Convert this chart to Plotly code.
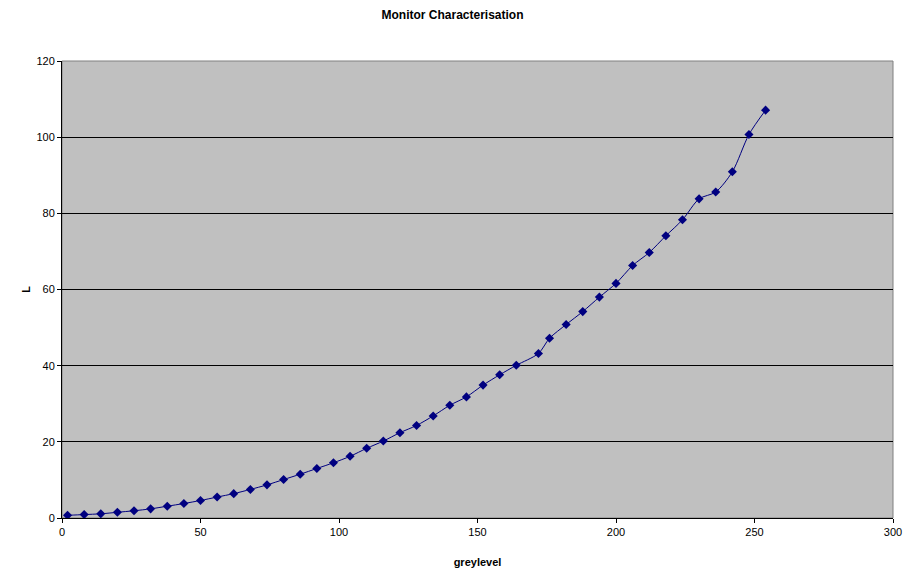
import plotly.graph_objects as go

greylevel = [2, 8, 14, 20, 26, 32, 38, 44, 50, 56, 62, 68, 74, 80, 86, 92, 98, 104,
             110, 116, 122, 128, 134, 140, 146, 152, 158, 164, 172, 176, 182, 188,
             194, 200, 206, 212, 218, 224, 230, 236, 242, 248, 254]
L_values = [0.7, 0.9, 1.1, 1.5, 1.9, 2.4, 3.1, 3.8, 4.6, 5.5, 6.4, 7.5, 8.7, 10.1,
            11.5, 13.0, 14.5, 16.2, 18.3, 20.2, 22.4, 24.3, 26.8, 29.6, 31.8, 34.9,
            37.6, 40.1, 43.2, 47.2, 50.8, 54.2, 58.0, 61.6, 66.3, 69.7, 74.1, 78.3,
            83.8, 85.6, 90.9, 100.7, 107.1]

x_ticks = [0, 50, 100, 150, 200, 250, 300]
y_ticks = [0, 20, 40, 60, 80, 100, 120]

FONT = "Liberation Sans, Arial, sans-serif"

fig = go.Figure()
fig.add_trace(go.Scatter(
    x=greylevel, y=L_values, mode="lines+markers",
    line=dict(color="#000080", width=1, shape="spline", smoothing=0.8),
    marker=dict(symbol="diamond", size=7, color="#000080"),
    showlegend=False,
))

fig.add_shape(type="rect", xref="x domain", yref="y domain", x0=0, x1=1, y0=0, y1=1,
              line=dict(color="#808080", width=1), layer="below")

fig.update_layout(
    width=905, height=572,
    margin=dict(l=62, r=12, t=61, b=54),
    paper_bgcolor="white", plot_bgcolor="#C0C0C0",
    font=dict(family=FONT, size=11, color="black"),
    title=dict(text="<b>Monitor Characterisation</b>", x=0.5, xanchor="center",
               y=1 - 15 / 572, yanchor="middle", font=dict(size=12, family=FONT)),
    xaxis=dict(range=[0, 300], tickvals=x_ticks, showgrid=False, zeroline=False,
               showline=True, linecolor="black", linewidth=1, automargin=False,
               ticks="outside", ticklen=4, tickcolor="black",
               title=dict(text="<b>greylevel</b>", font=dict(size=11), standoff=21)),
    yaxis=dict(range=[0, 120], tickvals=y_ticks, showgrid=True, gridcolor="black",
               gridwidth=1, zeroline=False, showline=True, linecolor="black",
               linewidth=1, ticks="outside", ticklen=4, tickcolor="black",
               automargin=False,
               title=dict(text="<b>L</b>", font=dict(size=11), standoff=3)),
)

fig.write_html("out.html")
